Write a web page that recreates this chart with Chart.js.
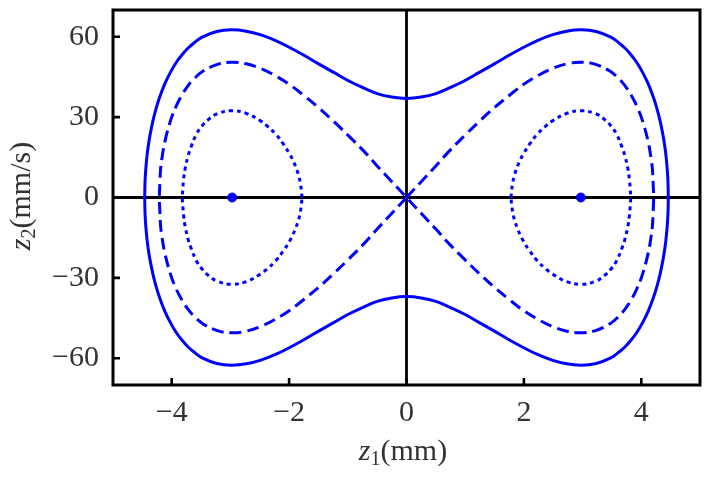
<!DOCTYPE html>
<html>
<head>
<meta charset="utf-8">
<script src="https://cdn.jsdelivr.net/npm/chart.js@4"></script>
<style>
  html, body { margin: 0; padding: 0; background: #fff; }
  #wrap { width: 709px; height: 477px; }
</style>
</head>
<body>
<div id="wrap"><canvas id="phase"></canvas></div>
<script>
// axis ticks
const xTicks = [-4, -2, 0, 2, 4];
const yTicks = [-60, -30, 0, 30, 60];

// outer orbit (solid)
const outerX = [-4.46, -4.455, -4.45, -4.44, -4.42, -4.40, -4.37, -4.32, -4.27, -4.22, -4.12, -4.02, -3.92, -3.82, -3.72, -3.62, -3.48, -3.23, -2.98, -2.73, -2.48, -2.23, -1.99, -1.74, -1.49, -1.24, -0.99, -0.74, -0.5, -0.25, 0,
  0.25, 0.5, 0.74, 0.99, 1.24, 1.49, 1.74, 1.99, 2.23, 2.48, 2.73, 2.98, 3.23, 3.48, 3.62, 3.72, 3.82, 3.92, 4.02, 4.12, 4.22, 4.27, 4.32, 4.37, 4.40, 4.42, 4.44, 4.45, 4.455, 4.46,
  4.455, 4.45, 4.44, 4.42, 4.40, 4.37, 4.32, 4.27, 4.22, 4.12, 4.02, 3.92, 3.82, 3.72, 3.62, 3.48, 3.23, 2.98, 2.73, 2.48, 2.23, 1.99, 1.74, 1.49, 1.24, 0.99, 0.74, 0.5, 0.25, 0,
  -0.25, -0.5, -0.74, -0.99, -1.24, -1.49, -1.74, -1.99, -2.23, -2.48, -2.73, -2.98, -3.23, -3.48, -3.62, -3.72, -3.82, -3.92, -4.02, -4.12, -4.22, -4.27, -4.32, -4.37, -4.40, -4.42, -4.44, -4.45, -4.455, -4.46];
const outerY = [0, 5.4, 7.8, 11.1, 15.7, 19.1, 23.2, 28.6, 32.9, 36.5, 42.3, 46.8, 50.5, 53.4, 55.8, 57.7, 59.9, 62.0, 62.6, 62.1, 60.7, 58.6, 56.0, 53.0, 49.8, 46.7, 43.6, 41.0, 38.8, 37.5, 37.0,
  37.5, 38.8, 41.0, 43.6, 46.7, 49.8, 53.0, 56.0, 58.6, 60.7, 62.1, 62.6, 62.0, 59.9, 57.7, 55.8, 53.4, 50.5, 46.8, 42.3, 36.5, 32.9, 28.6, 23.2, 19.1, 15.7, 11.1, 7.8, 5.4, 0,
  -5.4, -7.8, -11.1, -15.7, -19.1, -23.2, -28.6, -32.9, -36.5, -42.3, -46.8, -50.5, -53.4, -55.8, -57.7, -59.9, -62.0, -62.6, -62.1, -60.7, -58.6, -56.0, -53.0, -49.8, -46.7, -43.6, -41.0, -38.8, -37.5, -37.0,
  -37.5, -38.8, -41.0, -43.6, -46.7, -49.8, -53.0, -56.0, -58.6, -60.7, -62.1, -62.6, -62.0, -59.9, -57.7, -55.8, -53.4, -50.5, -46.8, -42.3, -36.5, -32.9, -28.6, -23.2, -19.1, -15.7, -11.1, -7.8, -5.4, 0];

// separatrix (dashed figure eight), traced through the origin
const sepX = [0, 0.25, 0.5, 0.74, 0.99, 1.24, 1.49, 1.74, 1.98, 2.23, 2.48, 2.73, 2.98, 3.22, 3.47, 3.62, 3.72, 3.82, 3.92, 4.02, 4.12, 4.17, 4.19, 4.20, 4.21,
  4.20, 4.19, 4.17, 4.12, 4.02, 3.92, 3.82, 3.72, 3.62, 3.47, 3.22, 2.98, 2.73, 2.48, 2.23, 1.98, 1.74, 1.49, 1.24, 0.99, 0.74, 0.5, 0.25, 0,
  -0.25, -0.5, -0.74, -0.99, -1.24, -1.49, -1.74, -1.98, -2.23, -2.48, -2.73, -2.98, -3.22, -3.47, -3.62, -3.72, -3.82, -3.92, -4.02, -4.12, -4.17, -4.19, -4.20, -4.21,
  -4.20, -4.19, -4.17, -4.12, -4.02, -3.92, -3.82, -3.72, -3.62, -3.47, -3.22, -2.98, -2.73, -2.48, -2.23, -1.98, -1.74, -1.49, -1.24, -0.99, -0.74, -0.5, -0.25, 0];
const sepY = [0, 5.9, 11.8, 17.6, 23.1, 28.4, 33.4, 37.9, 42.0, 45.4, 48.1, 49.9, 50.5, 49.7, 47.1, 44.3, 41.8, 38.5, 34.3, 28.7, 20.5, 14.1, 10.4, 6.0, 0,
  -6.0, -10.4, -14.1, -20.5, -28.7, -34.3, -38.5, -41.8, -44.3, -47.1, -49.7, -50.5, -49.9, -48.1, -45.4, -42.0, -37.9, -33.4, -28.4, -23.1, -17.6, -11.8, -5.9, 0,
  5.9, 11.8, 17.6, 23.1, 28.4, 33.4, 37.9, 42.0, 45.4, 48.1, 49.9, 50.5, 49.7, 47.1, 44.3, 41.8, 38.5, 34.3, 28.7, 20.5, 14.1, 10.4, 6.0, 0,
  -6.0, -10.4, -14.1, -20.5, -28.7, -34.3, -38.5, -41.8, -44.3, -47.1, -49.7, -50.5, -49.9, -48.1, -45.4, -42.0, -37.9, -33.4, -28.4, -23.1, -17.6, -11.8, -5.9, 0];

// inner orbits (dotted)
const innerRightX = [1.78, 1.79, 1.81, 1.84, 1.89, 1.94, 1.99, 2.09, 2.23, 2.38, 2.48, 2.73, 2.98, 3.23, 3.38, 3.48, 3.58, 3.67, 3.72, 3.77, 3.80, 3.81, 3.82,
  3.81, 3.80, 3.77, 3.72, 3.67, 3.58, 3.48, 3.38, 3.23, 2.98, 2.73, 2.48, 2.38, 2.23, 2.09, 1.99, 1.94, 1.89, 1.84, 1.81, 1.79, 1.78];
const innerRightY = [0, 2.4, 5.6, 8.4, 11.6, 14.1, 16.2, 19.7, 23.7, 26.8, 28.5, 31.4, 32.4, 31.2, 29.0, 26.8, 23.6, 18.9, 15.6, 10.9, 6.2, 3.3, 0,
  -3.3, -6.2, -10.9, -15.6, -18.9, -23.6, -26.8, -29.0, -31.2, -32.4, -31.4, -28.5, -26.8, -23.7, -19.7, -16.2, -14.1, -11.6, -8.4, -5.6, -2.4, 0];
const innerLeftX = [-1.78, -1.79, -1.81, -1.84, -1.89, -1.94, -1.99, -2.09, -2.23, -2.38, -2.48, -2.73, -2.98, -3.23, -3.38, -3.48, -3.58, -3.67, -3.72, -3.77, -3.80, -3.81, -3.82,
  -3.81, -3.80, -3.77, -3.72, -3.67, -3.58, -3.48, -3.38, -3.23, -2.98, -2.73, -2.48, -2.38, -2.23, -2.09, -1.99, -1.94, -1.89, -1.84, -1.81, -1.79, -1.78];
const innerLeftY = [0, 2.4, 5.6, 8.4, 11.6, 14.1, 16.2, 19.7, 23.7, 26.8, 28.5, 31.4, 32.4, 31.2, 29.0, 26.8, 23.6, 18.9, 15.6, 10.9, 6.2, 3.3, 0,
  -3.3, -6.2, -10.9, -15.6, -18.9, -23.6, -26.8, -29.0, -31.2, -32.4, -31.4, -28.5, -26.8, -23.7, -19.7, -16.2, -14.1, -11.6, -8.4, -5.6, -2.4, 0];

// equilibrium points
const centerX = [-2.97, 2.97];
const centerY = [0, 0];

const BLUE = "#0000ff";
const FONT = "Liberation Serif";

function pts(xs, ys) {
  return xs.map((x, i) => ({ x: x, y: ys[i] }));
}

function curve(xs, ys, dash) {
  return {
    data: pts(xs, ys),
    showLine: true,
    borderColor: BLUE,
    borderWidth: 3,
    borderDash: dash,
    pointRadius: 0,
    tension: 0.4,
    fill: false,
    order: 1,
  };
}

function minus(v) {
  return String(v).replace("-", "\u2212");
}

// frame, inward ticks and axis titles
const framePlugin = {
  id: "frame",
  afterDraw(c) {
    const ctx = c.ctx;
    const a = c.chartArea;
    const sx = c.scales.x;
    const sy = c.scales.y;
    ctx.save();
    ctx.strokeStyle = "#000";
    ctx.lineWidth = 3;
    ctx.strokeRect(a.left, a.top, a.right - a.left, a.bottom - a.top);
    ctx.lineWidth = 2.6;
    ctx.beginPath();
    xTicks.forEach((v) => {
      const px = sx.getPixelForValue(v);
      ctx.moveTo(px, a.bottom);
      ctx.lineTo(px, a.bottom - 7);
    });
    yTicks.forEach((v) => {
      const py = sy.getPixelForValue(v);
      ctx.moveTo(a.left, py);
      ctx.lineTo(a.left + 7, py);
    });
    ctx.stroke();

    // axis titles with subscripts
    ctx.fillStyle = "#333";
    ctx.textBaseline = "alphabetic";
    function title(sub, unit) {
      const big = "30px '" + FONT + "'";
      const ital = "italic 30px '" + FONT + "'";
      const small = "20px '" + FONT + "'";
      ctx.font = ital;
      const wz = ctx.measureText("z").width;
      ctx.font = small;
      const ws = ctx.measureText(sub).width;
      ctx.font = big;
      const wu = ctx.measureText(unit).width;
      let x = -(wz + ws + wu) / 2;
      ctx.textAlign = "left";
      ctx.font = ital;
      ctx.fillText("z", x, 0);
      x += wz;
      ctx.font = small;
      ctx.fillText(sub, x, 5);
      x += ws;
      ctx.font = big;
      ctx.fillText(unit, x, 0);
    }
    ctx.save();
    ctx.translate(403, 460);
    title("1", "(mm)");
    ctx.restore();
    ctx.save();
    ctx.translate(30, 196);
    ctx.rotate(-Math.PI / 2);
    title("2", "(mm/s)");
    ctx.restore();
    ctx.restore();
  },
};

const chart = new Chart(document.getElementById("phase"), {
  type: "scatter",
  data: {
    datasets: [
      {
        data: pts(centerX, centerY),
        pointRadius: 4.5,
        pointBackgroundColor: BLUE,
        pointBorderColor: BLUE,
        showLine: false,
        order: 0,
      },
      curve(outerX, outerY, []),
      curve(sepX, sepY, [12, 6]),
      curve(innerLeftX, innerLeftY, [4, 4]),
      curve(innerRightX, innerRightY, [4, 4]),
      {
        data: [{ x: -5, y: 0 }, { x: 5, y: 0 }],
        showLine: true,
        borderColor: "#000",
        borderWidth: 2.8,
        pointRadius: 0,
        order: 5,
      },
      {
        data: [{ x: 0, y: -70 }, { x: 0, y: 70 }],
        showLine: true,
        borderColor: "#000",
        borderWidth: 2.8,
        pointRadius: 0,
        order: 5,
      },
    ],
  },
  options: {
    responsive: true,
    maintainAspectRatio: false,
    animation: false,
    layout: { padding: { top: 10, right: 9, left: 0, bottom: 0 } },
    plugins: {
      legend: { display: false },
      tooltip: { enabled: false },
    },
    scales: {
      x: {
        type: "linear",
        min: -5,
        max: 5,
        afterBuildTicks: (s) => { s.ticks = xTicks.map((v) => ({ value: v })); },
        afterFit: (s) => {
          s.height = 92;
          s.paddingLeft = 0;
          s.paddingRight = 0;
        },
        grid: { display: false, drawTicks: false },
        border: { display: false },
        ticks: {
          padding: 10,
          color: "#333",
          font: { family: FONT, size: 30 },
          maxRotation: 0,
          callback: (v) => minus(v),
        },
      },
      y: {
        type: "linear",
        min: -70,
        max: 70,
        afterBuildTicks: (s) => { s.ticks = yTicks.map((v) => ({ value: v })); },
        afterFit: (s) => {
          s.width = 113;
          s.paddingTop = 0;
          s.paddingBottom = 0;
        },
        grid: { display: false, drawTicks: false },
        border: { display: false },
        ticks: {
          padding: 14,
          color: "#333",
          font: { family: FONT, size: 30 },
          callback: (v) => minus(v),
        },
      },
    },
  },
  plugins: [framePlugin],
});
</script>
</body>
</html>
